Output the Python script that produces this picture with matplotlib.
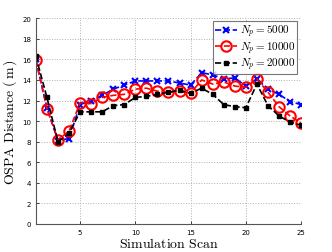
import matplotlib
matplotlib.use("Agg")
import matplotlib.pyplot as plt

plt.rcParams['mathtext.fontset'] = 'cm'

# simulation scans
scans = list(range(1, 26))

# OSPA distance per particle count
ospa_5000 = [16.0, 11.3, 8.1, 8.3, 11.6, 12.0, 12.5, 13.1, 13.5, 13.9, 13.9, 13.9, 13.9,
             13.7, 13.5, 14.7, 14.5, 14.1, 14.2, 13.4, 14.1, 13.1, 12.6, 11.9, 11.6]
ospa_10000 = [15.9, 11.2, 8.2, 9.0, 11.8, 11.7, 12.3, 12.5, 12.6, 13.1, 13.2, 12.9, 12.8,
              12.9, 12.7, 14.0, 13.6, 13.8, 13.4, 13.3, 14.1, 12.8, 11.4, 10.5, 9.8]
ospa_20000 = [16.3, 12.3, 8.0, 8.8, 10.9, 10.9, 10.9, 11.5, 11.6, 12.3, 12.4, 12.6, 12.8,
              13.0, 12.7, 13.2, 12.6, 11.6, 11.4, 11.3, 13.6, 11.5, 10.5, 9.9, 9.6]

labels = [r'$N_p = 5000$', r'$N_p = 10000$', r'$N_p = 20000$']

fig = plt.figure(figsize=(3.32, 2.53), dpi=100)
ax = fig.add_axes([0.108, 0.111, 0.799, 0.813])

ax.plot(scans, ospa_5000, '--x', color='blue', lw=1.2, ms=5, mew=1.5, label=labels[0])
ax.plot(scans, ospa_10000, '--o', color='red', lw=1.2, ms=7.5, mew=1.5,
        mfc='none', label=labels[1])
ax.plot(scans, ospa_20000, '--s', color='black', lw=1.2, ms=3.5, mew=1,
        label=labels[2])

ax.set_xlim(1, 25)
ax.set_ylim(0, 20)
ax.set_xticks([5, 10, 15, 20, 25])
ax.set_yticks(range(0, 21, 2))
ax.tick_params(labelsize=5, direction='in', length=2, width=0.5)
ax.grid(True, linestyle=':', color='#b0b0b0', lw=0.7)
ax.spines['top'].set_visible(False)
ax.spines['right'].set_visible(False)
ax.spines['left'].set_color('#555555')
ax.spines['bottom'].set_color('#555555')

ax.set_xlabel(r'$\mathrm{Simulation\ Scan}$', fontsize=10, labelpad=1)
ax.set_ylabel(r'$\mathrm{OSPA\ Distance\ (\,m\,)}$', fontsize=10, labelpad=2)

leg = ax.legend(loc='upper right', fontsize=8, frameon=True, fancybox=False,
                borderpad=0.15, labelspacing=0.0, handlelength=2.0, handletextpad=0.3,
                borderaxespad=0.0, bbox_to_anchor=(0.985, 0.985))
leg.get_frame().set_edgecolor('#555555')
leg.get_frame().set_linewidth(0.8)

fig.savefig('out.png', dpi=100)
